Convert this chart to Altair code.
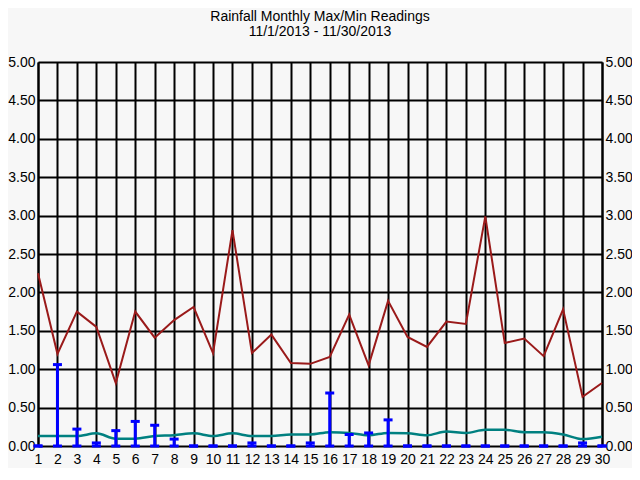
import altair as alt
import pandas as pd

days = list(range(1, 31))
max_vals = [2.25, 1.20, 1.75, 1.55, 0.82, 1.75, 1.41, 1.64, 1.81, 1.21,
            2.81, 1.21, 1.45, 1.08, 1.07, 1.16, 1.71, 1.05, 1.89, 1.42,
            1.29, 1.62, 1.59, 2.99, 1.34, 1.40, 1.17, 1.78, 0.64, 0.82]
min_vals = [0.13, 0.13, 0.13, 0.165, 0.095, 0.095, 0.13, 0.14, 0.165, 0.13,
            0.165, 0.13, 0.13, 0.15, 0.15, 0.18, 0.17, 0.14, 0.17, 0.165,
            0.14, 0.19, 0.17, 0.21, 0.21, 0.18, 0.18, 0.15, 0.09, 0.12]
daily_vals = [0.0, 1.06, 0.22, 0.04, 0.20, 0.32, 0.27, 0.09, 0.0, 0.0,
              0.0, 0.04, 0.0, 0.0, 0.04, 0.69, 0.15, 0.17, 0.34, 0.0,
              0.0, 0.0, 0.0, 0.0, 0.0, 0.0, 0.0, 0.0, 0.04, 0.0]
y_ticks = [0, 0.5, 1, 1.5, 2, 2.5, 3, 3.5, 4, 4.5, 5]

df = pd.DataFrame({"day": days, "max": max_vals, "min": min_vals,
                   "rain": daily_vals, "zero": [0.0] * 30})

FONT = "Liberation Sans"
xs = alt.Scale(domain=[1, 30], nice=False, zero=False)
ys = alt.Scale(domain=[0, 5], nice=False)

x_axis = alt.Axis(values=days, format="d", grid=True, gridColor="black", gridWidth=2,
                  gridOpacity=1, domain=False, ticks=False, labelPadding=6,
                  labelFont=FONT, labelFontSize=14, labelColor="black", title=None,
                  labelFlush=False)
y_left = alt.Axis(values=y_ticks, format=".2f", grid=True, gridColor="black", gridWidth=2,
                  gridOpacity=1, domain=True, domainColor="black", domainWidth=2,
                  ticks=False, labelPadding=3, labelFont=FONT, labelFontSize=14,
                  labelColor="black", title=None, orient="left", labelFlush=False)
y_right = alt.Axis(values=y_ticks, format=".2f", grid=False, domain=True,
                   domainColor="black", domainWidth=2, ticks=False, labelPadding=3,
                   labelFont=FONT, labelFontSize=14, labelColor="black", title=None,
                   orient="right", labelFlush=False)

base = alt.Chart(df)
X = alt.X("day:Q", scale=xs, axis=x_axis)

grid_layer = base.mark_point(opacity=0).encode(
    x=X, y=alt.Y("zero:Q", scale=ys, axis=y_left))
right_layer = base.mark_point(opacity=0).encode(
    x=X, y=alt.Y("zero:Q", scale=ys, axis=y_right))

max_line = base.mark_line(color="#9a1a1a", strokeWidth=2).encode(
    x=X, y=alt.Y("max:Q", scale=ys, axis=None))
min_line = base.mark_line(color="#008080", strokeWidth=2.5, interpolate="monotone").encode(
    x=X, y=alt.Y("min:Q", scale=ys, axis=None))

bars = base.mark_rule(color="#0000ff", strokeWidth=3).encode(
    x=X, y=alt.Y("zero:Q", scale=ys, axis=None), y2="rain:Q")
cap_top = base.mark_tick(color="#0000ff", orient="horizontal", size=9, thickness=3,
                         opacity=1).encode(
    x=X, y=alt.Y("rain:Q", scale=ys, axis=None))
cap_bot = base.mark_tick(color="#0000ff", orient="horizontal", size=9, thickness=3,
                         opacity=1).encode(
    x=X, y=alt.Y("zero:Q", scale=ys, axis=None))

chart = alt.layer(grid_layer, right_layer, max_line, min_line, bars, cap_top, cap_bot).resolve_axis(
    y="independent"
).properties(
    width=564, height=384,
    autosize=alt.AutoSizeParams(type="none"),
    padding={"left": 30, "top": 54, "right": 30, "bottom": 22},
    background="#f7f7f7",
    title=alt.TitleParams(
        text=["Rainfall Monthly Max/Min Readings", "11/1/2013 - 11/30/2013"],
        font=FONT, fontSize=14, fontWeight="normal", color="black",
        anchor="middle", offset=16, lineHeight=15),
).configure_view(stroke=None)

chart.save("out.html", embed_options={"renderer": "svg", "actions": False})
